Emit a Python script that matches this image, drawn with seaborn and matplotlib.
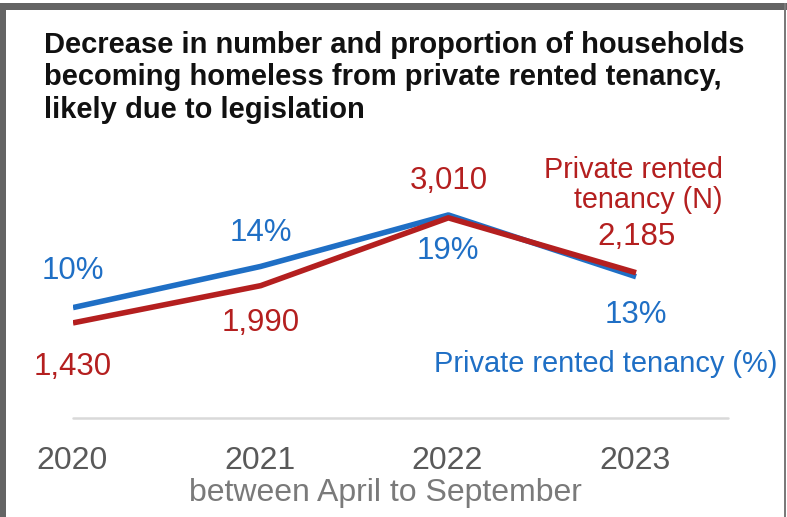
import matplotlib
matplotlib.use("Agg")
import matplotlib.pyplot as plt
from matplotlib.patches import Rectangle
import pandas as pd
import seaborn as sns

# Data
years = ["2020", "2021", "2022", "2023"]
households_n = [1430, 1990, 3010, 2185]
households_pct = [10, 14, 19, 13]

title = ("Decrease in number and proportion of households\n"
         "becoming homeless from private rented tenancy,\n"
         "likely due to legislation")
subtitle_x = "between April to September"
series_n_label = "Private rented\ntenancy (N)"
series_pct_label = "Private rented tenancy (%)"

RED = "#B41F1F"
BLUE = "#1F6FC5"
FONT = ["Liberation Sans", "DejaVu Sans"]

sns.set_theme(style="white")
plt.rcParams["font.family"] = FONT

W, H = 787, 517
fig = plt.figure(figsize=(W / 100, H / 100), dpi=100)


def fx(px):
    return px / W


def fy(py):
    return 1 - py / H


# Plot area: category 0 at x=73 px, baseline at y=418 px
left, right, top, bottom = 73, 728, 152, 418
ax = fig.add_axes([fx(left), fy(bottom), fx(right - left), (bottom - top) / H])
ax2 = ax.twinx()

df = pd.DataFrame({"x": range(len(years)), "year": years,
                   "n": households_n, "pct": households_pct})

sns.lineplot(data=df, x="x", y="pct", ax=ax2, color=BLUE, linewidth=4.0,
             solid_capstyle="butt")
sns.lineplot(data=df, x="x", y="n", ax=ax, color=RED, linewidth=4.0,
             solid_capstyle="butt")
# red series drawn above the blue one
ax.set_zorder(2)
ax.patch.set_visible(False)
ax2.set_zorder(1)

ax.set_xlim(0, 3.49)
ax.set_ylim(0, 4000)
ax2.set_ylim(-0.73, 25.12)

for a in (ax, ax2):
    a.set_xlabel("")
    a.set_ylabel("")
    a.set_yticks([])
    for s in a.spines.values():
        s.set_visible(False)
ax.set_xticks([])
ax.axhline(0, color="#d9d9d9", linewidth=1.8, zorder=0, clip_on=False)

# Year labels under the baseline
for i, yr in enumerate(years):
    ax.annotate(yr, xy=(i, 0), xycoords="data", xytext=(-1, -43),
                textcoords="offset pixels", ha="center", va="center",
                fontsize=23, color="#595959", annotation_clip=False)

# Value labels
n_off = [44, 37, -37, -36]
pct_off = [-37, -33, 36, 38]
for i, (v, o) in enumerate(zip(households_n, n_off)):
    ax.annotate(f"{v:,}", xy=(i, v), xytext=(0, -o),
                textcoords="offset pixels", ha="center", va="center",
                fontsize=22.5, color=RED, annotation_clip=False)
for i, (v, o) in enumerate(zip(households_pct, pct_off)):
    ax2.annotate(f"{v}%", xy=(i, v), xytext=(0, -o),
                 textcoords="offset pixels", ha="center", va="center",
                 fontsize=22.5, color=BLUE, annotation_clip=False)

# Series names
fig.text(fx(723), fy(185), series_n_label, ha="right", va="center",
         fontsize=20.7, color=RED, linespacing=1.13)
fig.text(fx(777), fy(364), series_pct_label, ha="right", va="center",
         fontsize=20.9, color=BLUE)

# Axis caption
fig.text(fx(385), fy(493), subtitle_x, ha="center", va="center",
         fontsize=23, color="#7a7a7a")

# Title
fig.text(fx(44), fy(31), title, ha="left", va="top", fontsize=21,
         fontweight="bold", color="#111111", linespacing=1.2)

# Frame around the graphic
frame = "#646464"
fig.patches.append(Rectangle((0, fy(10)), 1, 7 / H, transform=fig.transFigure,
                             facecolor=frame, edgecolor="none"))
fig.patches.append(Rectangle((0, 0), 6 / W, fy(3), transform=fig.transFigure,
                             facecolor=frame, edgecolor="none"))
fig.patches.append(Rectangle((fx(784), 0), 2 / W, fy(3),
                             transform=fig.transFigure,
                             facecolor="#7a7a7a", edgecolor="none"))

fig.savefig("out.png", dpi=100, facecolor="white")
